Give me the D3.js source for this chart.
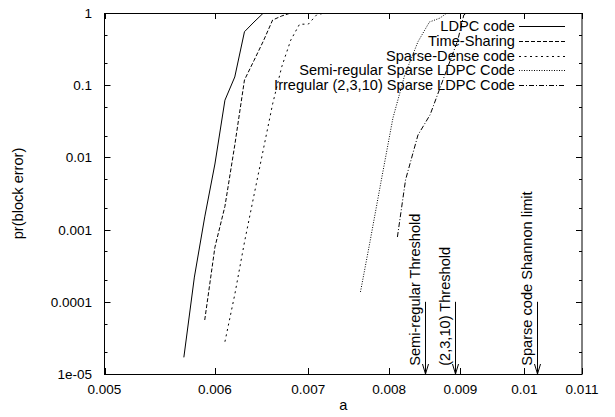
<!DOCTYPE html>
<html>
<head>
<meta charset="utf-8">
<script src="https://cdn.jsdelivr.net/npm/d3@7"></script>
<style>
  body { margin: 0; background: #fff; }
  svg { font-family: "Liberation Sans", Arial, sans-serif; }
  .tick-label { font-size: 13.5px; fill: #000; }
  .label { font-size: 14.6px; fill: #000; }
</style>
</head>
<body>
<div id="chart"></div>
<script>
// --- data ---
var seriesNames = ['LDPC code', 'Time-Sharing', 'Sparse-Dense code',
                   'Semi-regular Sparse LDPC Code', 'Irregular (2,3,10) Sparse LDPC Code'];

var ldpc = [[0.0057, 1.7e-5], [0.0058, 2.2e-4], [0.0059, 1.5e-3], [0.0060, 8.1e-3],
            [0.0061, 0.062], [0.0062, 0.13], [0.0063, 0.55], [0.0064, 0.75],
            [0.0065, 1], [0.0070, 1]];
var timeSharing = [[0.0059, 5.6e-5], [0.0060, 5.7e-4], [0.0061, 2.1e-3], [0.0062, 0.0148],
                   [0.0063, 0.118], [0.0064, 0.22], [0.0065, 0.41], [0.0066, 0.8],
                   [0.0067, 0.91], [0.0068, 1], [0.0072, 1]];
var sparseDense = [[0.0061, 2.8e-5], [0.0062, 1.26e-4], [0.0063, 6.7e-4], [0.0064, 3e-3],
                   [0.0065, 0.013], [0.0066, 0.055], [0.0067, 0.18], [0.0068, 0.42],
                   [0.0069, 0.70], [0.0070, 0.70], [0.0071, 0.95], [0.0072, 1], [0.0075, 1]];
var semiRegular = [[0.00763, 1.37e-4], [0.00775, 6.7e-4], [0.00789, 4.4e-3], [0.00805, 0.035],
                   [0.00821, 0.14], [0.00839, 0.40], [0.00855, 0.75], [0.0087, 0.85],
                   [0.0088, 1], [0.0090, 1]];
var irregular = [[0.00811, 7.9e-4], [0.00822, 4.9e-3], [0.00839, 0.0204], [0.00856, 0.039],
                 [0.00877, 0.138], [0.00896, 0.42], [0.00905, 0.94], [0.0091, 1], [0.0093, 1]];

var xTicks = [0.005, 0.006, 0.007, 0.008, 0.009, 0.01, 0.011];
var xTickLabels = ['0.005', '0.006', '0.007', '0.008', '0.009', '0.01', '0.011'];
var yTicks = [1e-5, 1e-4, 1e-3, 1e-2, 0.1, 1];
var yTickLabels = ['1e-05', '0.0001', '0.001', '0.01', '0.1', '1'];

var markerNames = ['Semi-regular Threshold', '(2,3,10) Threshold', 'Sparse code Shannon limit'];
var markerX = [0.00849, 0.00892, 0.01021];

// --- layout ---
var width = 615, height = 417;
var plotL = 104.5, plotR = 582, plotT = 13, plotB = 374;

var x = d3.scaleLog().domain([0.005, 0.011]).range([plotL, plotR]);
var y = d3.scaleLog().domain([1e-5, 1]).range([plotB, plotT]);

var svg = d3.select('#chart').append('svg')
            .attr('width', width)
            .attr('height', height);

svg.append('clipPath').attr('id', 'plotclip')
   .append('rect')
   .attr('x', plotL).attr('y', plotT)
   .attr('width', plotR - plotL).attr('height', plotB - plotT);

// ticks (inward, mirrored on all sides)
var tickG = svg.append('g').attr('stroke', '#000').attr('stroke-width', 1);
xTicks.forEach(function(t) {
	var px = Math.round(x(t)) + 0.5;
	tickG.append('line').attr('x1', px).attr('x2', px).attr('y1', plotB).attr('y2', plotB - 6);
	tickG.append('line').attr('x1', px).attr('x2', px).attr('y1', plotT).attr('y2', plotT + 6);
});
var yMinor = [];
yTicks.forEach(function(t) {
	if (t < 1) { yMinor.push(t * 2); yMinor.push(t * 5); }
});
yTicks.forEach(function(t) {
	var py = Math.round(y(t)) + 0.5;
	tickG.append('line').attr('x1', plotL).attr('x2', plotL + 6).attr('y1', py).attr('y2', py);
	tickG.append('line').attr('x1', plotR).attr('x2', plotR - 6).attr('y1', py).attr('y2', py);
});
yMinor.forEach(function(t) {
	var py = Math.round(y(t)) + 0.5;
	tickG.append('line').attr('x1', plotL).attr('x2', plotL + 3).attr('y1', py).attr('y2', py);
	tickG.append('line').attr('x1', plotR).attr('x2', plotR - 3).attr('y1', py).attr('y2', py);
});

// tick labels
svg.selectAll('text.xlab').data(xTicks).enter()
   .append('text')
   .attr('class', 'tick-label')
   .attr('x', function(d) { return x(d); })
   .attr('y', 394)
   .attr('text-anchor', 'middle')
   .text(function(d, i) { return xTickLabels[i]; });

svg.selectAll('text.ylab').data(yTicks).enter()
   .append('text')
   .attr('class', 'tick-label')
   .attr('x', 92)
   .attr('y', function(d) { return y(d) + 5; })
   .attr('text-anchor', 'end')
   .text(function(d, i) { return yTickLabels[i]; });

// axis titles
svg.append('text').attr('class', 'label')
   .attr('x', (plotL + plotR) / 2).attr('y', 410)
   .attr('text-anchor', 'middle').text('a');
svg.append('text').attr('class', 'label')
   .attr('transform', 'translate(23,' + ((plotT + plotB) / 2) + ') rotate(-90)')
   .attr('text-anchor', 'middle').text('pr(block error)');

// curves
var styles = [
	{ dash: null },
	{ dash: '4,2' },
	{ dash: '2,3.5' },
	{ dash: '1,1.5' },
	{ dash: '5,2,1,2' }
];
var allSeries = [ldpc, timeSharing, sparseDense, semiRegular, irregular];

var line = d3.line()
	.x(function(d) { return x(d[0]); })
	.y(function(d) { return y(d[1]); });

var curveG = svg.append('g').attr('clip-path', 'url(#plotclip)');
allSeries.forEach(function(s, i) {
	curveG.append('path')
		.datum(s)
		.attr('d', line)
		.attr('fill', 'none')
		.attr('stroke', '#000')
		.attr('stroke-width', 1)
		.attr('stroke-dasharray', styles[i].dash);
});

// legend
var legY0 = 26, legStep = 14.75;
seriesNames.forEach(function(name, i) {
	var ly = legY0 + i * legStep;
	svg.append('text').attr('class', 'label')
	   .attr('x', 515).attr('y', ly + 5)
	   .attr('text-anchor', 'end').text(name);
	svg.append('line')
	   .attr('x1', 519).attr('x2', 565)
	   .attr('y1', Math.round(ly) + 0.5).attr('y2', Math.round(ly) + 0.5)
	   .attr('stroke', '#000').attr('stroke-width', 1)
	   .attr('stroke-dasharray', styles[i].dash);
});

// threshold arrows
markerNames.forEach(function(name, i) {
	var px = Math.round(x(markerX[i])) + 0.5;
	var y0 = y(1e-4), y1 = y(1e-5);
	svg.append('line').attr('x1', px).attr('x2', px).attr('y1', y0).attr('y2', y1)
	   .attr('stroke', '#000').attr('stroke-width', 1);
	svg.append('path')
	   .attr('d', 'M' + (px - 3) + ',' + (y1 - 10) + 'L' + px + ',' + y1 + 'L' + (px + 3) + ',' + (y1 - 10))
	   .attr('fill', 'none').attr('stroke', '#000').attr('stroke-width', 1);
	svg.append('text').attr('class', 'label')
	   .attr('transform', 'translate(' + (px - 6) + ',' + y(1.3e-5) + ') rotate(-90)')
	   .attr('text-anchor', 'start').text(name);
});

// frame
svg.append('rect')
   .attr('x', plotL).attr('y', plotT + 0.5)
   .attr('width', plotR - plotL).attr('height', plotB - plotT)
   .attr('fill', 'none').attr('stroke', '#000').attr('stroke-width', 1);
</script>
</body>
</html>
